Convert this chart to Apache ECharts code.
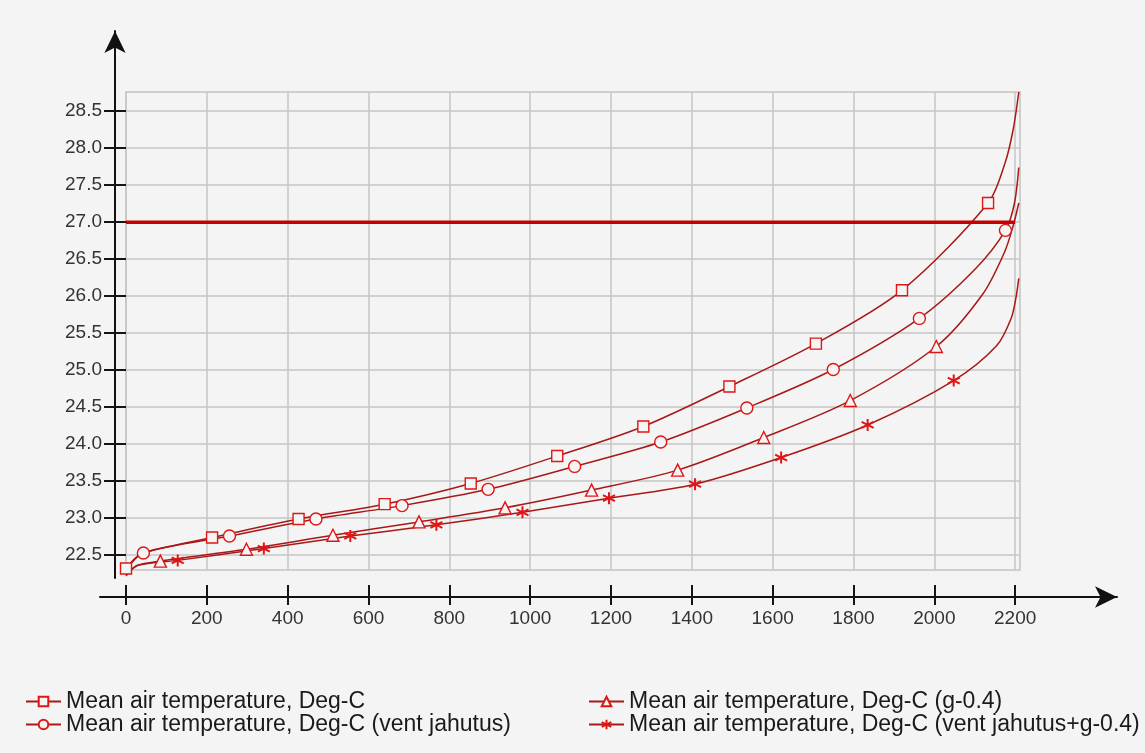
<!DOCTYPE html>
<html>
<head>
<meta charset="utf-8">
<script src="https://cdn.jsdelivr.net/npm/echarts@6/dist/echarts.min.js"></script>
<style>
html,body{margin:0;padding:0;background:#f4f4f4;}
#c{width:1145px;height:753px;}
</style>
</head>
<body>
<div id="c"></div>
<script>
// ---- data ----
const xTicks = [0,200,400,600,800,1000,1200,1400,1600,1800,2000,2200];
const yTicks = [22.5,23.0,23.5,24.0,24.5,25.0,25.5,26.0,26.5,27.0,27.5,28.0,28.5];

const seriesNames = [
  'Mean air temperature, Deg-C',
  'Mean air temperature, Deg-C (vent jahutus)',
  'Mean air temperature, Deg-C (g-0.4)',
  'Mean air temperature, Deg-C (vent jahutus+g-0.4)'
];

const sqX = [0,35,100,213,427,640,853,1067,1280,1493,1707,1920,2133,2175,2195,2209];
const sqY = [22.32,22.51,22.61,22.74,22.99,23.19,23.47,23.84,24.24,24.78,25.36,26.08,27.26,27.8,28.25,28.76];
const sqMarks = [0,213,427,640,853,1067,1280,1493,1707,1920,2133];

const ciX = [0,43,256,470,683,896,1110,1323,1536,1750,1963,2100,2176,2198,2209];
const ciY = [22.3,22.53,22.76,22.99,23.17,23.39,23.7,24.03,24.49,25.01,25.7,26.36,26.89,27.25,27.74];
const ciMarks = [43,256,470,683,896,1110,1323,1536,1750,1963,2176];

const trX = [0,28,85,298,512,725,938,1152,1365,1578,1792,2005,2120,2174,2195,2209];
const trY = [22.23,22.36,22.42,22.58,22.77,22.95,23.14,23.38,23.65,24.09,24.59,25.32,26.03,26.6,26.95,27.26];
const trMarks = [85,298,512,725,938,1152,1365,1578,1792,2005];

const stX = [0,28,128,341,555,768,981,1195,1408,1621,1835,2048,2154,2190,2202,2209];
const stY = [22.22,22.36,22.43,22.59,22.76,22.91,23.08,23.27,23.46,23.82,24.26,24.86,25.33,25.7,25.98,26.24];
const stMarks = [128,341,555,768,981,1195,1408,1621,1835,2048];

const limitX = [0, 2200];
const limitY = [27.0, 27.0];

// ---- build ----
const FONT = 'Liberation Sans, Arial, sans-serif';
const LINE = '#a81818';
const MARK = '#e01515';
const STAR = 'path://M10,0L10,20M1.34,5L18.66,15M1.34,15L18.66,5';

function build(xs, ys, marks) {
  return xs.map((x, i) => marks.indexOf(x) >= 0
    ? { value: [x, ys[i]] }
    : { value: [x, ys[i]], symbol: 'none' });
}

function curve(name, xs, ys, marks, symbol, size, fill) {
  return {
    name: name, type: 'line', xAxisIndex: 0, yAxisIndex: 0,
    data: build(xs, ys, marks),
    symbol: symbol, symbolSize: size, showAllSymbol: true,
    smooth: 0.3, clip: false,
    lineStyle: { color: LINE, width: 1.5 },
    itemStyle: { color: fill, borderColor: MARK, borderWidth: symbol === STAR ? 2 : 1.4 },
    emphasis: { disabled: true },
    z: 4
  };
}

const chart = echarts.init(document.getElementById('c'), null, { renderer: 'canvas' });

const splitStyle = { color: '#c6c6c6', width: 1.5 };
const tickStyle = { color: '#151515', width: 2 };
const legendText = { fontSize: 23, lineHeight: 20, color: '#1a1a1a', fontFamily: FONT };

chart.setOption({
  backgroundColor: '#f4f4f4',
  animation: false,
  grid: [
    { left: 126, right: 125, top: 92, bottom: 183, show: true, borderColor: '#c2c2c2', borderWidth: 1.5, backgroundColor: 'transparent' },
    { left: 115, width: 1, top: 31, bottom: 175, show: false },
    { left: 100, right: 28, bottom: 156, height: 1, show: false }
  ],
  xAxis: [
    { type: 'value', gridIndex: 0, min: 0, max: 2212, position: 'bottom', offset: 15,
      axisLine: { show: false },
      axisTick: { show: true, length: 20, lineStyle: tickStyle, customValues: xTicks },
      axisLabel: { customValues: xTicks, margin: 24, fontSize: 19, color: '#333', fontFamily: FONT,
        formatter: v => String(v) },
      splitLine: { show: true, lineStyle: splitStyle } },
    { type: 'value', gridIndex: 1, min: 0, max: 1, show: false },
    { type: 'value', gridIndex: 2, min: 0, max: 1,
      axisLine: { show: true, onZero: false, symbol: ['none', 'arrow'], symbolSize: [16, 22], lineStyle: { color: '#111', width: 2 } },
      axisTick: { show: false }, axisLabel: { show: false }, splitLine: { show: false } }
  ],
  yAxis: [
    { type: 'value', gridIndex: 0, min: 22.3, max: 28.76,
      axisLine: { show: false },
      axisTick: { show: true, length: 22, lineStyle: tickStyle, customValues: yTicks },
      axisLabel: { customValues: yTicks, margin: 24, fontSize: 19, color: '#333', fontFamily: FONT,
        formatter: v => Number(v).toFixed(1) },
      splitLine: { show: true, lineStyle: splitStyle } },
    { type: 'value', gridIndex: 1, min: 0, max: 1,
      axisLine: { show: true, onZero: false, symbol: ['none', 'arrow'], symbolSize: [16, 22], lineStyle: { color: '#111', width: 2 } },
      axisTick: { show: false }, axisLabel: { show: false }, splitLine: { show: false } },
    { type: 'value', gridIndex: 2, min: 0, max: 1, show: false }
  ],
  legend: [
    { data: [seriesNames[0], seriesNames[1]], orient: 'vertical', left: 20, top: 685, itemGap: 0,
      itemWidth: 35, itemHeight: 12, selectedMode: false, textStyle: legendText },
    { data: [seriesNames[2], seriesNames[3]], orient: 'vertical', left: 583, top: 685, itemGap: 0,
      itemWidth: 35, itemHeight: 12, selectedMode: false, textStyle: legendText }
  ],
  series: [
    { name: 'limit', type: 'line', xAxisIndex: 0, yAxisIndex: 0,
      data: limitX.map((x, i) => [x, limitY[i]]),
      symbol: 'none', lineStyle: { color: '#c40000', width: 3.5 }, z: 5, emphasis: { disabled: true } },
    curve(seriesNames[0], sqX, sqY, sqMarks, 'rect', 11, '#f4f4f4'),
    curve(seriesNames[1], ciX, ciY, ciMarks, 'circle', 12, '#f4f4f4'),
    curve(seriesNames[2], trX, trY, trMarks, 'triangle', 12, '#f4f4f4'),
    curve(seriesNames[3], stX, stY, stMarks, STAR, 12, MARK)
  ]
});
</script>
</body>
</html>
